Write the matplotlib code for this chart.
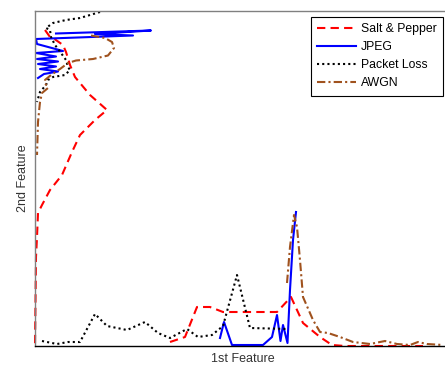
import matplotlib
matplotlib.use("Agg")
import matplotlib.pyplot as plt

plt.rcParams['font.family'] = ['Liberation Sans', 'DejaVu Sans']

# Salt & Pepper
sp_bx = [135, 150, 162, 175, 188, 242, 256, 268, 285, 297, 310, 388]
sp_by = [4, 9, 39, 39, 34, 34, 49, 23, 9, 1, 0, 0]
sp_lx = [10, 15, 18, 28, 31, 35, 40, 45, 55, 72, 60, 45, 37, 27, 15, 7, 3, 2, 1, 0]
sp_ly = [316, 309, 308, 301, 294, 281, 269, 263, 251, 236, 226, 211, 194, 171, 156, 141, 133, 109, 89, 0]

# JPEG
jp_bx = [185, 189, 197, 228, 237, 242, 245.5, 248, 252.5, 255, 258, 261]
jp_by = [8, 24, 1, 1, 9, 31, 5, 21, 3, 56, 106, 134]
jp_lx = [21, 116, 60, 98, 1, 2, 28, 1, 21, 2, 23, 3, 21, 5, 23, 9, 3]
jp_ly = [312.5, 315.5, 312, 310.5, 307, 302, 295, 293, 289.5, 287, 284.5, 282, 279.5, 277, 274.5, 272, 268]

# Packet Loss
pl_bx = [7, 22, 33, 45, 60, 72, 92, 110, 123, 135, 152, 163, 177, 188, 202, 215, 253]
pl_by = [5, 2, 4, 4, 32, 20, 16, 24, 13, 8, 17, 9, 11, 20, 71, 18, 17]
pl_lx = [65, 45, 31, 18, 11, 15, 16, 20, 26, 31, 33, 35, 30, 18, 13, 11, 5, 2]
pl_ly = [334, 328, 326, 323, 318, 316, 309, 301, 293, 286, 279, 276, 271, 269, 266, 261, 254, 244]

# AWGN
aw_bx = [252, 255, 259, 262, 265, 268, 278, 285, 293, 305, 318, 335, 350, 362, 375, 383, 392, 408]
aw_by = [63, 99, 131, 119, 86, 49, 26, 14, 13, 9, 4, 2, 5, 2, 1, 4, 2, 1]
aw_lx = [56, 70, 77, 79, 73, 58, 41, 33, 25, 16, 10, 10, 13, 7, 5, 3, 2]
aw_ly = [310.5, 308, 304, 298, 290.5, 287, 285.5, 283, 277, 271, 266, 263, 258, 253, 244, 224, 191]

labels = ['Salt & Pepper', 'JPEG', 'Packet Loss', 'AWGN']

fig = plt.figure(figsize=(4.45, 3.65), dpi=100)
ax = fig.add_axes([35/445, 19/365, 415/445, 335/365])

red = '#ff0000'
blue = '#0000ff'
black = '#000000'
brown = '#a0521e'

l1, = ax.plot(sp_bx, sp_by, color=red, ls=(0, (4, 2.5)), lw=1.5, label=labels[0], clip_on=False)
ax.plot(sp_lx, sp_ly, color=red, ls=(0, (4, 2.5)), lw=1.5, clip_on=False)
l2, = ax.plot(jp_bx, jp_by, color=blue, ls='-', lw=1.5, label=labels[1], clip_on=False)
ax.plot(jp_lx, jp_ly, color=blue, ls='-', lw=1.5, clip_on=False)
l3, = ax.plot(pl_bx, pl_by, color=black, ls=(0, (1, 1.5)), lw=1.5, label=labels[2], clip_on=False)
ax.plot(pl_lx, pl_ly, color=black, ls=(0, (1, 1.5)), lw=1.5, clip_on=False)
l4, = ax.plot(aw_bx, aw_by, color=brown, ls=(0, (4, 1.5, 1, 1.5)), lw=1.5, label=labels[3], clip_on=False)
ax.plot(aw_lx, aw_ly, color=brown, ls=(0, (4, 1.5, 1, 1.5)), lw=1.5, clip_on=False)

ax.set_xlim(0, 415)
ax.set_ylim(0, 335)
ax.set_xticks([])
ax.set_yticks([])
ax.spines['top'].set_color('#808080')
ax.spines['left'].set_color('#808080')
ax.spines['bottom'].set_color('#000000')
ax.spines['right'].set_visible(False)
for s in ax.spines.values():
    s.set_linewidth(1.0)

ax.set_xlabel('1st Feature', fontsize=9, color='#333333', labelpad=5)
ax.set_ylabel('2nd Feature', fontsize=9, color='#333333', labelpad=4)

leg = ax.legend(handles=[l1, l2, l3, l4], loc='upper right', bbox_to_anchor=(0.983, 0.982),
                borderaxespad=0, fontsize=8.8, handlelength=3.2, handletextpad=0.4,
                labelspacing=0.5, fancybox=False, framealpha=1, edgecolor='black',
                borderpad=0.5)
leg.get_frame().set_linewidth(0.8)

fig.savefig('out.png', dpi=100)
